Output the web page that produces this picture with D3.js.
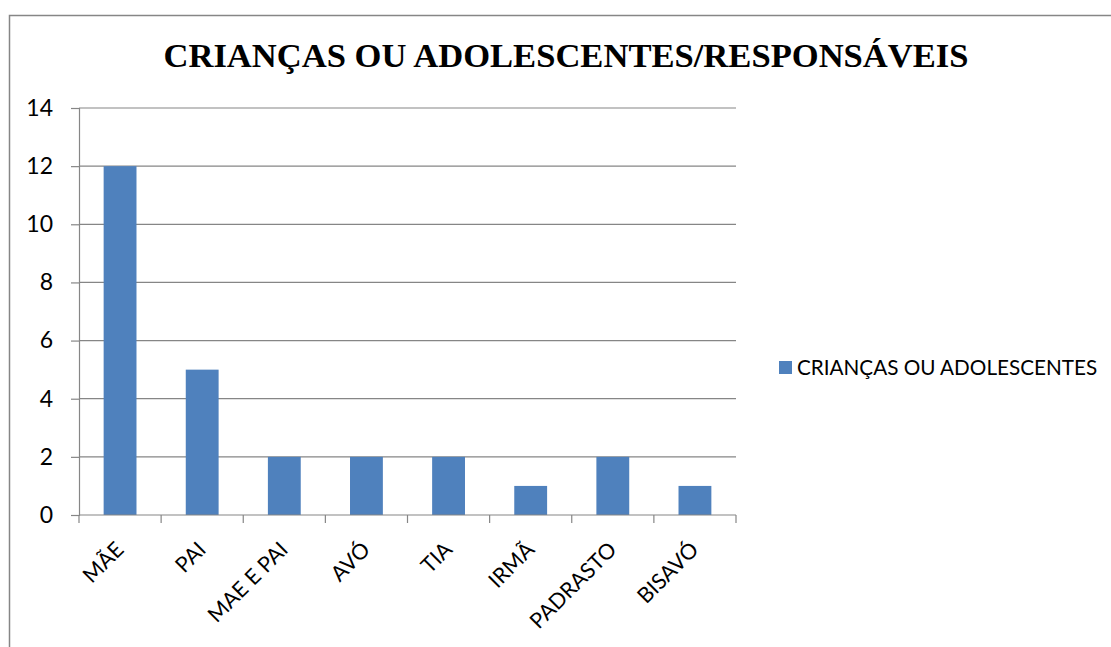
<!DOCTYPE html>
<html>
<head>
<meta charset="utf-8">
<script src="https://cdn.jsdelivr.net/npm/d3@7"></script>
<style>
  body { margin: 0; background: #fff; }
  svg text { fill: #000; }
</style>
</head>
<body>
<svg id="chart" width="1111" height="647"></svg>
<script>
const categories = ["MÃE", "PAI", "MAE E PAI", "AVÓ", "TIA", "IRMÃ", "PADRASTO", "BISAVÓ"];
const values = [12, 5, 2, 2, 2, 1, 2, 1];
const yTicks = [0, 2, 4, 6, 8, 10, 12, 14];
const seriesName = "CRIANÇAS OU ADOLESCENTES";
const title = "CRIANÇAS OU ADOLESCENTES/RESPONSÁVEIS";

const BAR = "#4F81BD";
const GRID = "#868686";
const LABEL_FONT = "Lato, 'Open Sans', sans-serif";

const plot = {left: 79, right: 736, top: 108, bottom: 515};

const svg = d3.select("#chart");

// chart frame
svg.append("rect")
  .attr("x", 9.5).attr("y", 15.5)
  .attr("width", 1200).attr("height", 700)
  .attr("fill", "none")
  .attr("stroke", GRID)
  .attr("stroke-width", 1.5);

svg.append("text")
  .attr("x", 566).attr("y", 67)
  .attr("text-anchor", "middle")
  .style("font-family", "'Liberation Serif', 'Times New Roman', serif")
  .style("font-weight", "bold")
  .style("font-size", "34.6px")
  .text(title);

const x = d3.scaleBand()
  .domain(categories)
  .range([plot.left, plot.right]);

const y = d3.scaleLinear()
  .domain([0, 14])
  .range([plot.bottom, plot.top]);

// gridlines
svg.append("g")
  .selectAll("line")
  .data(yTicks.filter(d => d > 0))
  .join("line")
  .attr("x1", plot.left).attr("x2", plot.right)
  .attr("y1", d => y(d)).attr("y2", d => y(d))
  .attr("stroke", GRID)
  .attr("stroke-width", 1.2);

// bars
svg.append("g")
  .selectAll("rect")
  .data(values)
  .join("rect")
  .attr("x", (d, i) => x(categories[i]) + x.bandwidth() * 0.3)
  .attr("width", x.bandwidth() * 0.4)
  .attr("y", d => y(d))
  .attr("height", d => y(0) - y(d))
  .attr("fill", BAR);

// y axis
const yAxis = d3.axisLeft(y).tickValues(yTicks).tickSize(8).tickPadding(18);
const gy = svg.append("g")
  .attr("transform", `translate(${plot.left},0)`)
  .call(yAxis);
gy.select(".domain").attr("stroke", GRID).attr("stroke-width", 1.2);
gy.selectAll(".tick line").attr("stroke", GRID).attr("stroke-width", 1.2);
gy.selectAll(".tick text")
  .style("font-family", LABEL_FONT)
  .style("font-size", "23px");

// x axis: ticks on band edges
const gx = svg.append("g")
  .attr("transform", `translate(0,${plot.bottom})`);
gx.append("line")
  .attr("x1", plot.left).attr("x2", plot.right)
  .attr("stroke", GRID).attr("stroke-width", 1.2);
gx.selectAll(".edge")
  .data(categories.concat(["end"]))
  .join("line")
  .attr("class", "edge")
  .attr("x1", (d, i) => plot.left + i * x.step())
  .attr("x2", (d, i) => plot.left + i * x.step())
  .attr("y1", 0).attr("y2", 8)
  .attr("stroke", GRID).attr("stroke-width", 1.2);
gx.selectAll(".lbl")
  .data(categories)
  .join("text")
  .attr("class", "lbl")
  .attr("text-anchor", "end")
  .attr("transform", d => `translate(${x(d) + x.bandwidth() / 2 + 5},${36}) rotate(-45)`)
  .style("font-family", LABEL_FONT)
  .style("font-size", "21.5px")
  .text(d => d);

// legend
const lg = svg.append("g").attr("transform", "translate(779,361)");
lg.append("rect").attr("width", 13).attr("height", 13).attr("fill", BAR);
lg.append("text")
  .attr("x", 18).attr("y", 14)
  .style("font-family", LABEL_FONT)
  .style("font-size", "20.7px")
  .text(seriesName);
</script>
</body>
</html>
